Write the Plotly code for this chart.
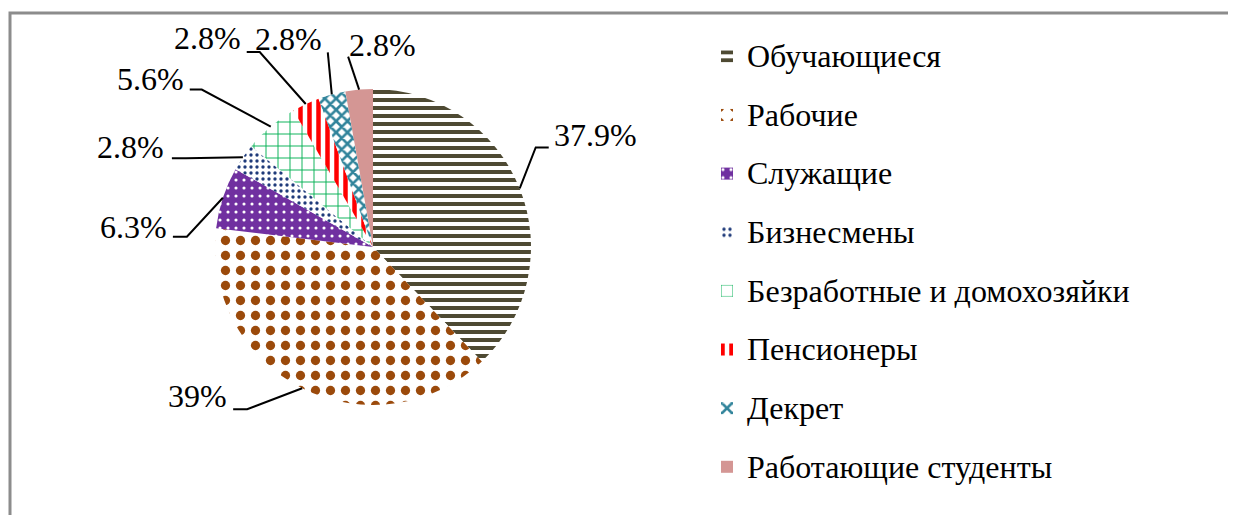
import math
import plotly.graph_objects as go

# ---------------- data ----------------
categories = ["Обучающиеся", "Рабочие", "Служащие", "Бизнесмены",
              "Безработные и домохозяйки", "Пенсионеры", "Декрет",
              "Работающие студенты"]
shares = [37.9, 39, 6.3, 2.8, 5.6, 2.8, 2.8, 2.8]
label_texts = ["37.9%", "39%", "6.3%", "2.8%", "5.6%", "2.8%", "2.8%", "2.8%"]

# ---------------- styles ----------------
pattern_shapes = ["-", ".", ".", ".", "+", "|", "x", ""]
fg_colors = ["#4E4A33", "#9B4A0B", "#FFFFFF", "#1F3B7A", "#00B050",
             "#FF0000", "#31849B", "#D49694"]
bg_colors = ["#FFFFFF", "#FFFFFF", "#7030A0", "#FFFFFF", "#FFFFFF",
             "#FFFFFF", "#FFFFFF", "#D49694"]
pattern_sizes = [8, 15, 8, 6, 12, 9, 8, 8]
pattern_solidity = [0.5, 0.3, 0.12, 0.25, 0.15, 0.5, 0.55, 0.3]

W, H = 1236, 515
OFF = 8                              # page body margin
CX, CY, R = 373, 247, 158            # pie placement in screen px
FONT = "Times New Roman, Liberation Serif, DejaVu Serif, serif"
FS = 32

# label layout (px): attach offset from slice anchor, elbow length, side, gap
attach_off = [(29, -41), (-69, 21), (-50, 39), (-71, 1), (-81, -37),
              (-59, -52), (-4, -42), (-11, -33)]
elbow_len = [13, 14, 14, 14, 12, 13, 0, 0]
label_side = ["right", "left", "left", "left", "left", "left", "left", "right"]
label_gap = [3, 4, 4, 6, 4, 4, 4, -1]
label_dy = [-12, -13, -10, -11, -11, -14, -13, -12]


def px(x, y):
    return (x - OFF) / W, 1 - (y - OFF) / H


fig = go.Figure()
fig.add_trace(go.Pie(
    labels=[f'<span style="font-size:{FS}px;baseline-shift:6px">{c}</span>'
            for c in categories],
    values=shares,
    sort=False,
    direction="clockwise",
    rotation=0,
    textinfo="none",
    hoverinfo="label+percent",
    domain=dict(x=[px(CX - R, 0)[0], px(CX + R, 0)[0]],
                y=[px(0, CY + R)[1], px(0, CY - R)[1]]),
    marker=dict(
        colors=bg_colors,
        line=dict(width=0),
        pattern=dict(shape=pattern_shapes, fgcolor=fg_colors,
                     bgcolor=bg_colors, size=pattern_sizes,
                     solidity=pattern_solidity, fillmode="replace"),
    ),
))

total = sum(shares)
cum = 0
shapes = []
annotations = []
for i, v in enumerate(shares):
    mid = (cum + v / 2) / total * 2 * math.pi
    cum += v
    ax_ = CX + R * math.sin(mid)
    ay_ = CY - R * math.cos(mid)
    tx = ax_ + attach_off[i][0]
    ty = ay_ + attach_off[i][1]
    if label_side[i] == "right":
        ex = tx - elbow_len[i]
        lx = tx + label_gap[i]
        xanchor = "left"
    else:
        ex = tx + elbow_len[i]
        lx = tx - label_gap[i]
        xanchor = "right"
    p0 = px(ax_, ay_)
    p1 = px(ex, ty)
    p2 = px(tx, ty)
    shapes.append(dict(type="path", xref="paper", yref="paper",
                       path=f"M {p0[0]},{p0[1]} L {p1[0]},{p1[1]} L {p2[0]},{p2[1]}",
                       line=dict(color="black", width=2)))
    lp = px(lx, ty + label_dy[i])
    annotations.append(dict(x=lp[0], y=lp[1], xref="paper", yref="paper",
                            text=label_texts[i], showarrow=False,
                            xanchor=xanchor, yanchor="middle",
                            font=dict(family=FONT, size=FS, color="black")))

# outer frame
f0 = px(10, 13)
shapes.append(dict(type="rect", xref="paper", yref="paper",
                   x0=f0[0], y0=-0.05, x1=1.05, y1=f0[1],
                   line=dict(color="#8C8C8C", width=3), fillcolor="rgba(0,0,0,0)"))

fig.update_layout(
    width=W, height=H,
    margin=dict(l=0, r=0, t=0, b=0),
    paper_bgcolor="white",
    plot_bgcolor="white",
    shapes=shapes,
    annotations=annotations,
    showlegend=True,
    legend=dict(x=699 / W, xanchor="left", y=1 - 14 / H, yanchor="top",
                font=dict(family=FONT, size=42.8, color="black"),
                bgcolor="rgba(0,0,0,0)", borderwidth=0),
)

fig.write_html("out.html")
